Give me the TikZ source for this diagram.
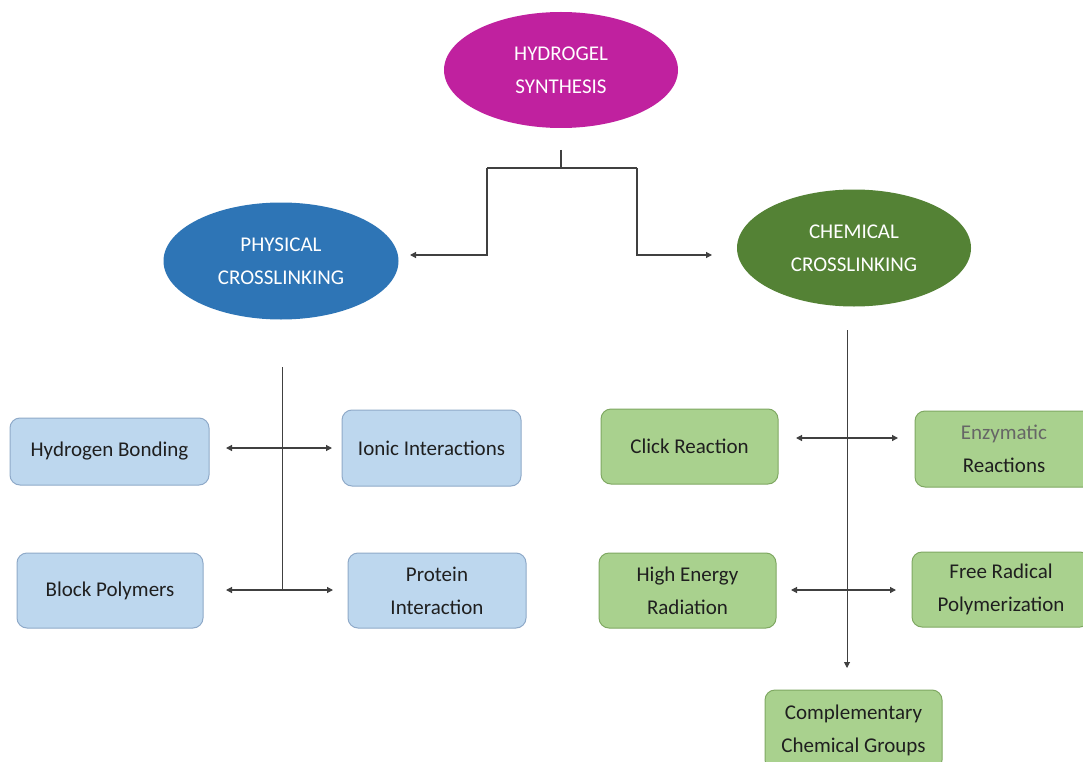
\documentclass[tikz,border=0pt]{standalone}
\usepackage{fontspec}
\setmainfont{Carlito}
\usetikzlibrary{shapes.geometric,arrows.meta}
\definecolor{magentaC}{HTML}{C0219F}
\definecolor{blueC}{HTML}{2E75B6}
\definecolor{greenC}{HTML}{548235}
\definecolor{lblue}{HTML}{BDD7EE}
\definecolor{lblueB}{HTML}{8FAAC9}
\definecolor{lgreen}{HTML}{A9D18E}
\definecolor{lgreenB}{HTML}{7FA862}
\definecolor{txt}{HTML}{1F1F1F}
\definecolor{linec}{HTML}{404040}
\tikzset{
  oval/.style={ellipse, draw=none, text=white, align=center, font=\fontsize{21}{33}\selectfont, inner sep=0pt},
  bbox/.style={rectangle, rounded corners=10pt, draw=lblueB, line width=1pt, fill=lblue, text=txt, align=center, font=\fontsize{21}{33}\selectfont, inner sep=0pt},
  gbox/.style={rectangle, rounded corners=10pt, draw=lgreenB, line width=1pt, fill=lgreen, text=txt, align=center, font=\fontsize{21}{33}\selectfont, inner sep=0pt},
  conn/.style={draw=linec, line width=1.2pt},
  tip/.style={-{Triangle[width=6pt,length=6pt]}},
  tips/.style={{Triangle[width=6pt,length=6pt]}-{Triangle[width=6pt,length=6pt]}}
}
\begin{document}
\begin{tikzpicture}[x=1pt,y=-1pt]
\useasboundingbox (0,0) rectangle (1083,762);
\fill[white] (0,0) rectangle (1083,762);
% ellipses
\node[oval, fill=magentaC, minimum width=234pt, minimum height=116pt] (hs) at (561,70) {HYDROGEL\\SYNTHESIS};
\node[oval, fill=blueC, minimum width=235pt, minimum height=117pt] (pc) at (281,261) {PHYSICAL\\CROSSLINKING};
\node[oval, fill=greenC, minimum width=234pt, minimum height=117pt] (cc) at (854,248) {CHEMICAL\\CROSSLINKING};
% top connector
\coordinate (t0) at (561,150);
\coordinate (t1) at (561,168);
\coordinate (tl) at (487,168);
\coordinate (tr) at (637,168);
\coordinate (al) at (410,255);
\coordinate (ar) at (712,255);
\draw[conn] (t0) -- (t1);
\draw[conn] (tl) -- (tr);
\draw[conn,tip] (tl) |- (al);
\draw[conn,tip] (tr) |- (ar);
% physical boxes
\node[bbox, minimum width=199pt, minimum height=67pt] (hb) at (109.5,451.5) {Hydrogen Bonding};
\node[bbox, minimum width=179pt, minimum height=76pt] (ii) at (431.5,448) {Ionic Interactions};
\node[bbox, minimum width=186pt, minimum height=75pt] (bp) at (110,590.5) {Block Polymers};
\node[bbox, minimum width=178pt, minimum height=75pt] (pi) at (437,590.5) {Protein\\Interaction};
\coordinate (ps0) at (282,367);
\coordinate (ps1) at (282,590);
\draw[conn, line width=1pt] (ps0) -- (ps1);
\coordinate (pa1l) at (226,448);
\coordinate (pa1r) at (332,448);
\coordinate (pa2l) at (226,590);
\coordinate (pa2r) at (333,590);
\draw[conn,tips] (pa1l) -- (pa1r);
\draw[conn,tips] (pa2l) -- (pa2r);
% chemical boxes
\node[gbox, minimum width=177pt, minimum height=75pt] (cr) at (689.5,446.5) {Click Reaction};
\node[gbox, minimum width=178pt, minimum height=76pt] (er) at (1004,449) {\textcolor{linec!80}{Enzymatic}\\Reactions};
\node[gbox, minimum width=177pt, minimum height=75pt] (he) at (687.5,590.5) {High Energy\\Radiation};
\node[gbox, minimum width=178pt, minimum height=75pt] (fr) at (1001,589.5) {Free Radical\\Polymerization};
\node[gbox, minimum width=177pt, minimum height=80pt] (cg) at (853.5,730) {Complementary\\Chemical Groups};
\coordinate (cs0) at (847,330);
\coordinate (cs1) at (847,668);
\draw[conn, line width=1pt, tip] (cs0) -- (cs1);
\coordinate (ca1l) at (796,438);
\coordinate (ca1r) at (898,438);
\coordinate (ca2l) at (791,590);
\coordinate (ca2r) at (896,590);
\draw[conn,tips] (ca1l) -- (ca1r);
\draw[conn,tips] (ca2l) -- (ca2r);
\end{tikzpicture}
\end{document}
